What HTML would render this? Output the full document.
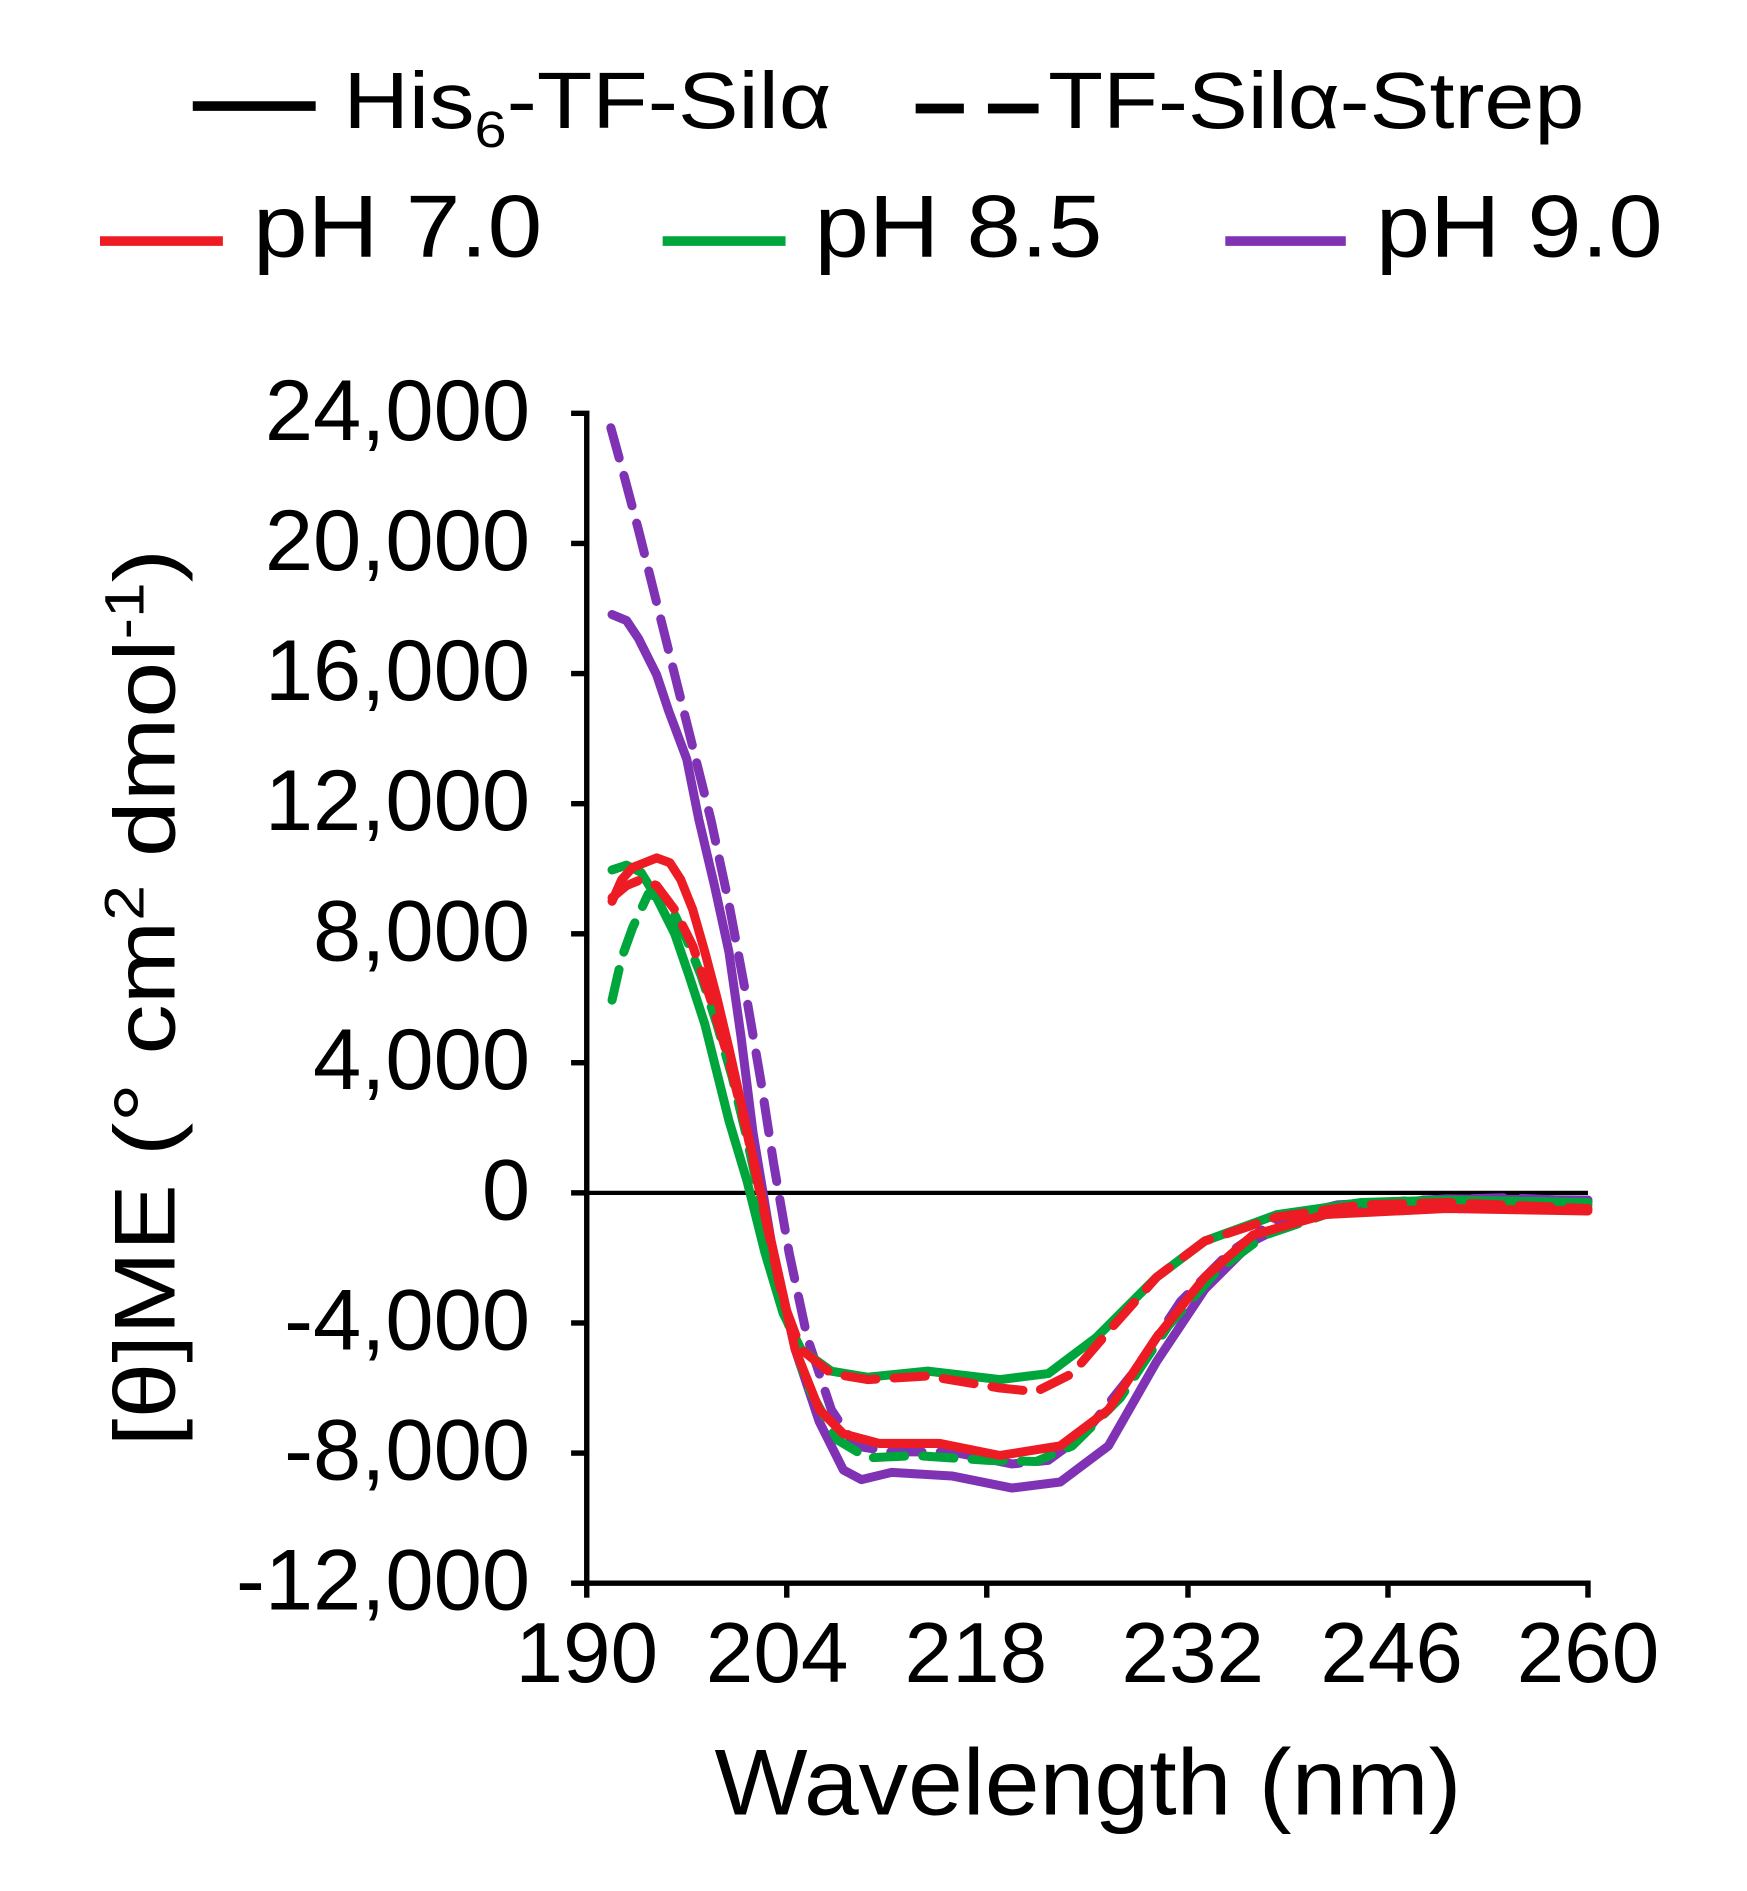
<!DOCTYPE html>
<html><head><meta charset="utf-8"><style>html,body{margin:0;padding:0;background:#fff;}svg{display:block;}</style></head>
<body>
<svg width="1747" height="1891" viewBox="0 0 1450 1569.4" xmlns="http://www.w3.org/2000/svg" font-family="Liberation Sans, Arial, sans-serif">
<rect width="1450" height="1570" fill="#fff"/>
<!-- legend -->
<line x1="160" y1="88" x2="262" y2="88" stroke="#000" stroke-width="8"/>
<text x="285" y="106" font-size="66" textLength="405" lengthAdjust="spacingAndGlyphs">His<tspan font-size="42" dy="16">6</tspan><tspan dy="-16">-TF-Silα</tspan></text>
<line x1="760" y1="90" x2="800" y2="90" stroke="#000" stroke-width="8"/>
<line x1="820" y1="90" x2="862" y2="90" stroke="#000" stroke-width="8"/>
<text x="870" y="106" font-size="66" textLength="445" lengthAdjust="spacingAndGlyphs">TF-Silα-Strep</text>
<line x1="83" y1="200" x2="185" y2="200" stroke="#ed1c24" stroke-width="8"/>
<text x="210" y="213" font-size="73" textLength="240" lengthAdjust="spacingAndGlyphs">pH 7.0</text>
<line x1="550" y1="200" x2="652" y2="200" stroke="#00a63c" stroke-width="8"/>
<text x="676" y="213" font-size="73" textLength="239" lengthAdjust="spacingAndGlyphs">pH 8.5</text>
<line x1="1017" y1="200" x2="1117" y2="200" stroke="#7f32b4" stroke-width="8"/>
<text x="1142" y="213" font-size="73" textLength="238" lengthAdjust="spacingAndGlyphs">pH 9.0</text>
<!-- axes -->
<g stroke="#000" stroke-width="4.5" fill="none">
<path d="M474,343 H487 V1314 H1318 V1326"/>
<line x1="474" y1="451" x2="487" y2="451"/><line x1="474" y1="559" x2="487" y2="559"/>
<line x1="474" y1="667" x2="487" y2="667"/><line x1="474" y1="775" x2="487" y2="775"/>
<line x1="474" y1="882" x2="487" y2="882"/><line x1="474" y1="990" x2="487" y2="990"/>
<line x1="474" y1="1098" x2="487" y2="1098"/><line x1="474" y1="1206" x2="487" y2="1206"/>
<line x1="474" y1="1314" x2="487" y2="1314"/>
<line x1="487" y1="1314" x2="487" y2="1326"/><line x1="653" y1="1314" x2="653" y2="1326"/>
<line x1="819" y1="1314" x2="819" y2="1326"/><line x1="986" y1="1314" x2="986" y2="1326"/>
<line x1="1152" y1="1314" x2="1152" y2="1326"/>
<line x1="487" y1="990" x2="1318" y2="990" stroke-width="3.5"/>
</g>
<g font-size="72" text-anchor="end">
<text x="440" y="365">24,000</text><text x="440" y="473">20,000</text><text x="440" y="581">16,000</text>
<text x="440" y="689">12,000</text><text x="440" y="797">8,000</text><text x="440" y="904">4,000</text>
<text x="440" y="1012">0</text><text x="440" y="1120">-4,000</text><text x="440" y="1228">-8,000</text>
<text x="440" y="1336">-12,000</text>
</g>
<g font-size="71" text-anchor="middle">
<text x="487" y="1396">190</text><text x="645" y="1396">204</text><text x="810" y="1396">218</text>
<text x="990" y="1396">232</text><text x="1155" y="1396">246</text><text x="1318" y="1396">260</text>
</g>
<text x="903" y="1506" font-size="78" text-anchor="middle" textLength="620" lengthAdjust="spacingAndGlyphs">Wavelength (nm)</text>
<text transform="translate(145,828) rotate(-90)" font-size="72" text-anchor="middle" textLength="745" lengthAdjust="spacingAndGlyphs">[θ]ME (° cm<tspan font-size="46" dy="-26">2</tspan><tspan dy="26"> dmol</tspan><tspan font-size="46" dy="-26">-1</tspan><tspan dy="26">)</tspan></text>
<!-- series -->
<g fill="none" stroke-width="7.5" stroke-linejoin="round" stroke-linecap="round">
<polyline stroke="#7f32b4" stroke-dasharray="26,15" points="507,355 518,395 530,440 545,500 560,560 575,620 590,680 605,750 620,830 632,900 642,965 655,1040 670,1110 690,1170 710,1200 740,1205 790,1205 840,1215 870,1212 900,1190 940,1140 980,1080 1020,1040 1060,1012 1110,1000 1180,996 1250,994 1318,997"/>
<polyline stroke="#7f32b4" points="508,510 520,515 530,530 545,560 555,590 570,630 580,680 593,735 605,790 615,860 625,940 640,1030 660,1120 680,1180 700,1220 715,1228 740,1222 790,1225 840,1235 880,1230 920,1200 960,1130 1000,1070 1040,1030 1080,1010 1130,1000 1200,995 1318,996"/>
<polyline stroke="#00a63c" stroke-dasharray="26,15" points="508,830 516,795 525,770 538,742 548,745 558,755 570,780 582,810 595,850 608,895 620,945 635,1015 650,1085 670,1150 695,1195 720,1210 760,1208 820,1212 860,1213 890,1200 930,1160 970,1100 1010,1055 1050,1025 1100,1008 1200,1000 1318,1000"/>
<polyline stroke="#00a63c" points="508,722 520,718 532,724 545,745 560,775 572,810 585,850 605,930 620,980 635,1040 650,1090 665,1120 690,1138 720,1143 770,1138 830,1145 870,1140 910,1110 960,1060 1000,1030 1060,1008 1130,998 1200,996 1318,998"/>
<polyline stroke="#ed1c24" stroke-dasharray="26,15" points="508,745 520,735 532,730 545,735 560,755 575,785 590,830 605,880 620,940 635,1010 650,1080 665,1120 690,1140 720,1145 770,1142 830,1152 860,1155 890,1140 920,1105 960,1060 1000,1030 1060,1010 1130,1000 1200,998 1318,1003"/>
<polyline stroke="#ed1c24" points="508,748 516,730 525,720 545,712 556,716 565,730 575,755 585,790 595,828 605,870 615,915 625,960 640,1030 660,1120 680,1170 700,1190 730,1198 780,1198 830,1208 880,1200 920,1170 960,1110 1000,1060 1040,1025 1100,1008 1200,1003 1318,1005"/>
</g>
</svg>
</body></html>
